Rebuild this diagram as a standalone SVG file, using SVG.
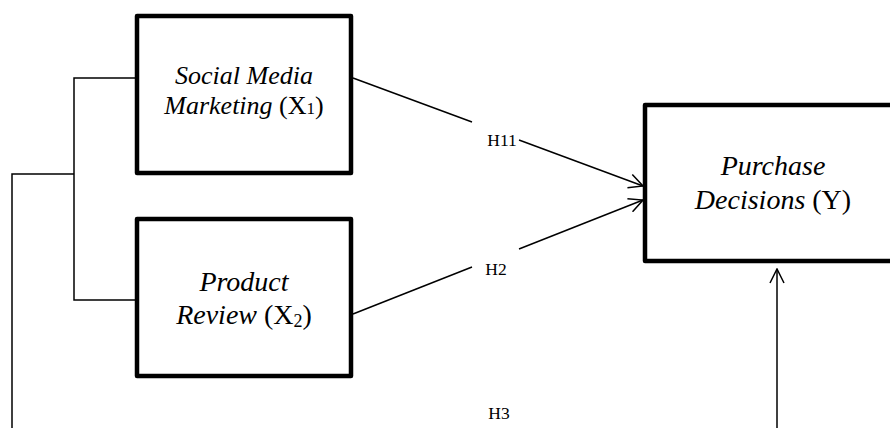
<svg xmlns="http://www.w3.org/2000/svg" width="890" height="428" viewBox="0 0 890 428">
  <style>
    .box { fill: #ffffff; stroke: #000000; stroke-width: 4.5; stroke-linejoin: round; }
    .line { fill: none; stroke: #000000; stroke-width: 1.5; }
    .label { font-family: "Liberation Serif", "Times New Roman", serif; fill: #000000; text-anchor: middle; }
    .it { font-style: italic; }
    .h { font-family: "Liberation Serif", "Times New Roman", serif; font-size: 17.5px; fill: #000000; text-anchor: middle; }
  </style>
  <defs>
    <marker id="open" viewBox="0 0 16 16" refX="15" refY="8" markerWidth="16" markerHeight="16" markerUnits="userSpaceOnUse" orient="auto">
      <path d="M1,1 L15,8 L1,15" fill="none" stroke="#000000" stroke-width="1.5"/>
    </marker>
  </defs>
  <rect width="890" height="428" fill="#ffffff"/>

  <g id="connectors">
    <!-- bracket linking X1 and X2 -->
    <polyline class="line" points="137,78 74,78 74,300 137,300"/>
    <!-- joint path to Y -->
    <polyline class="line" points="74,174 12,174 12,430"/>
    <line class="line" x1="777" y1="430" x2="777" y2="269" marker-end="url(#open)"/>
    <!-- H11 -->
    <line class="line" x1="353" y1="78" x2="472" y2="122"/>
    <line class="line" x1="519" y1="140" x2="643" y2="186" marker-end="url(#open)"/>
    <!-- H2 -->
    <line class="line" x1="353" y1="314" x2="472" y2="267"/>
    <line class="line" x1="519" y1="249" x2="643" y2="200" marker-end="url(#open)"/>
    <text class="h" x="502" y="146">H11</text>
    <text class="h" x="496" y="275">H2</text>
    <text class="h" x="499" y="419">H3</text>
  </g>

  <g id="x1">
    <rect class="box" x="137" y="16" width="214" height="157"/>
    <text class="label" x="244" y="84" font-size="26"><tspan class="it">Social Media</tspan></text>
    <text class="label" x="244" y="114" font-size="26"><tspan class="it">Marketing</tspan> (X<tspan font-size="17">1</tspan>)</text>
  </g>

  <g id="x2">
    <rect class="box" x="137" y="219" width="214" height="157"/>
    <text class="label" x="244" y="291" font-size="28"><tspan class="it">Product</tspan></text>
    <text class="label" x="244" y="324" font-size="28"><tspan class="it">Review</tspan> (X<tspan font-size="18" dy="3">2</tspan><tspan dy="-3">)</tspan></text>
  </g>

  <g id="y">
    <rect class="box" x="645" y="105" width="256" height="156"/>
    <text class="label" x="773" y="175" font-size="28"><tspan class="it">Purchase</tspan></text>
    <text class="label" x="773" y="209" font-size="28"><tspan class="it">Decisions</tspan> (Y)</text>
  </g>
</svg>
